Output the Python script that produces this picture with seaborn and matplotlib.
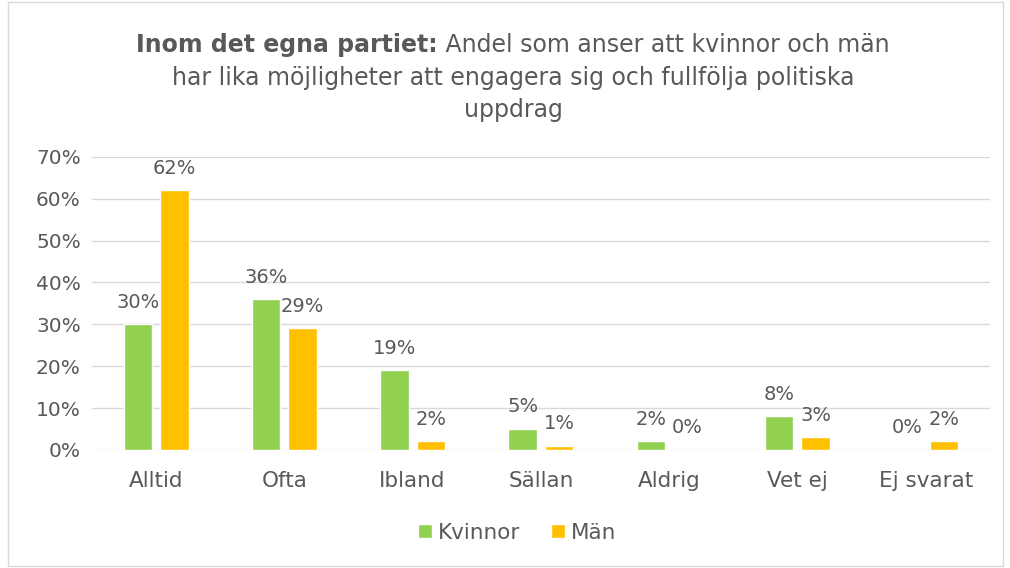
import pandas as pd
import matplotlib.pyplot as plt
import seaborn as sns
from matplotlib.patches import Rectangle, Patch
from matplotlib.ticker import FuncFormatter

# Chart data (percent)
categories = ['Alltid', 'Ofta', 'Ibland', 'Sällan', 'Aldrig', 'Vet ej', 'Ej svarat']
kvinnor = [30, 36, 19, 5, 2, 8, 0]
man = [62, 29, 2, 1, 0, 3, 2]
series_names = ['Kvinnor', 'Män']
colors = ['#92D050', '#FFC000']

df = pd.DataFrame({
    'Svar': categories * 2,
    'Andel': kvinnor + man,
    'Kön': [series_names[0]] * len(categories) + [series_names[1]] * len(categories),
})

sns.set_style('white')
plt.rcParams['font.family'] = ['DejaVu Sans']
text_color = '#595959'

fig = plt.figure(figsize=(10.1, 5.68), dpi=100)
ax = fig.add_axes([0.091, 0.208, 0.889, 0.5158])

sns.barplot(data=df, x='Svar', y='Andel', hue='Kön', order=categories,
            hue_order=series_names, palette=colors, width=0.57, gap=0.22,
            saturation=1, legend=False, ax=ax)

for cont in ax.containers:
    vals = [b.get_height() for b in cont]
    ax.bar_label(cont, labels=[f'{v:.0f}%' for v in vals], padding=9,
                 fontsize=14, color=text_color)

ax.set_ylim(0, 70)
ax.set_yticks(range(0, 71, 10))
ax.yaxis.set_major_formatter(FuncFormatter(lambda v, p: f'{v:.0f}%'))
ax.grid(axis='y', color='#D9D9D9', linewidth=1)
ax.set_axisbelow(True)
for s in ax.spines.values():
    s.set_visible(False)
ax.tick_params(axis='both', length=0, labelcolor=text_color)
ax.tick_params(axis='x', pad=15, labelsize=15.5)
ax.tick_params(axis='y', pad=8, labelsize=14.5)
ax.set_xlabel('')
ax.set_ylabel('')

# Title with bold lead-in on the first line
title_size = 17
fig.canvas.draw()
r = fig.canvas.get_renderer()
t1 = fig.text(0, 0.921, 'Inom det egna partiet:', fontsize=title_size, fontweight='bold',
              color=text_color, va='center', ha='left')
t2 = fig.text(0, 0.921, ' Andel som anser att kvinnor och män', fontsize=title_size,
              color=text_color, va='center', ha='left')
w1 = t1.get_window_extent(r).width / fig.bbox.width
w2 = t2.get_window_extent(r).width / fig.bbox.width
x0 = 0.508 - (w1 + w2) / 2
t1.set_x(x0)
t2.set_x(x0 + w1)
fig.text(0.508, 0.863, 'har lika möjligheter att engagera sig och fullfölja politiska',
         fontsize=title_size, color=text_color, ha='center', va='center')
fig.text(0.508, 0.806, 'uppdrag', fontsize=title_size, color=text_color, ha='center', va='center')

handles = [Patch(facecolor=c, label=n) for c, n in zip(colors, series_names)]
fig.legend(handles=handles, loc='center', bbox_to_anchor=(0.512, 0.062), ncol=2,
           frameon=False, fontsize=15.5, labelcolor=text_color, handlelength=0.65,
           handleheight=0.65, handletextpad=0.3, columnspacing=1.4)

fig.patches.append(Rectangle((0.008, 0.004), 0.985, 0.992, transform=fig.transFigure,
                             fill=False, edgecolor='#D9D9D9', linewidth=1))

plt.savefig('out.png', dpi=100)
